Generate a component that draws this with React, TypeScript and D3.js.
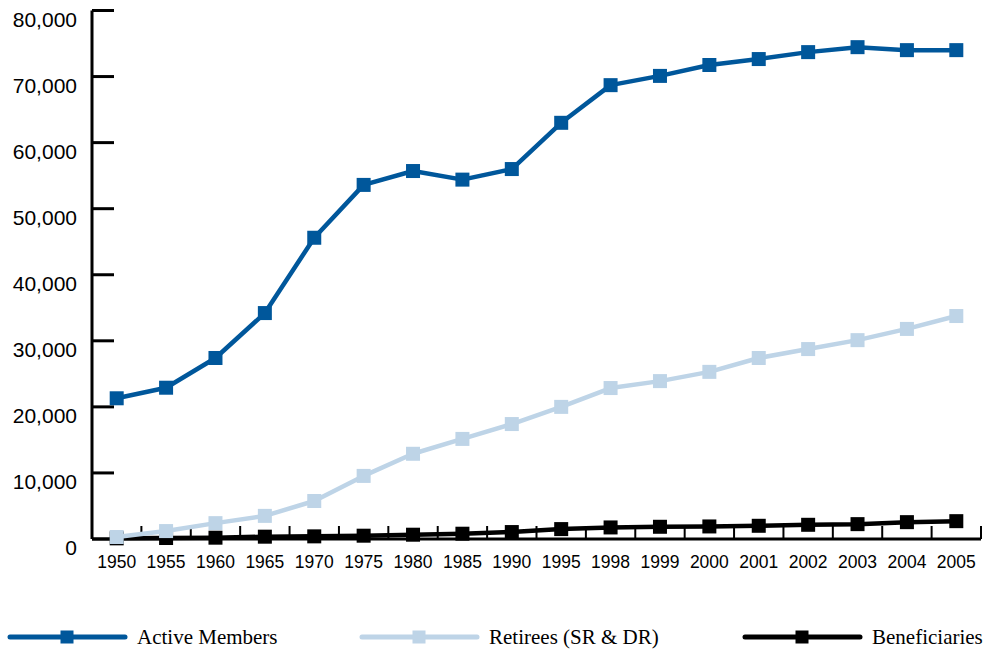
import React from "react";
import * as d3 from "d3";

const years = ["1950","1955","1960","1965","1970","1975","1980","1985","1990","1995","1998","1999","2000","2001","2002","2003","2004","2005"];
const activeMembers = [21300,22900,27400,34200,45600,53600,55700,54400,56000,63000,68700,70100,71750,72650,73700,74450,74000,74000];
const retirees = [300,1200,2400,3500,5750,9550,12900,15150,17400,20000,22850,23900,25300,27400,28750,30100,31800,33750];
const beneficiaries = [100,150,200,350,400,500,650,800,1050,1500,1750,1850,1900,2000,2150,2250,2550,2700];
const yTicks = [0,10000,20000,30000,40000,50000,60000,70000,80000];

const seriesNames = ["Active Members","Retirees (SR & DR)","Beneficiaries"];
const seriesColors = ["#00579b","#bed4e7","#000000"];

const W = 989, H = 654;
const left = 92, right = 981, top = 10.5, bottom = 539;

export default function App() {
  const x = d3.scaleBand<string>().domain(years).range([left, right]).padding(0);
  const y = d3.scaleLinear().domain([0, 80000]).range([bottom, top]);
  const cx = (yr: string) => (x(yr) as number) + x.bandwidth() / 2;
  const line = d3.line<number>().x((_, i) => cx(years[i])).y(d => y(d));
  const fmt = d3.format(",");
  const data = [activeMembers, retirees, beneficiaries];
  const order = [0, 2, 1];
  const ms = 14;
  const legendX = [10, 362, 745];
  const legendY = 637;

  return (
    <svg width={W} height={H} style={{ position: "absolute", left: 0, top: 0, background: "#fff" }}>
      {/* y axis */}
      <line x1={left} x2={left} y1={top} y2={bottom} stroke="#000" strokeWidth={3} />
      {yTicks.map(t => (
        <g key={t}>
          <line x1={left} x2={left + 22} y1={y(t)} y2={y(t)} stroke="#000" strokeWidth={3} />
          <text x={77} y={y(t) + 16} textAnchor="end" fontFamily="Liberation Sans, Arial, sans-serif" fontSize={21} fill="#000">{fmt(t)}</text>
        </g>
      ))}
      {/* x axis */}
      <line x1={left} x2={right} y1={bottom} y2={bottom} stroke="#000" strokeWidth={3} />
      {years.map((yr, i) => (
        <g key={yr}>
          {i > 0 && <line x1={x(yr) as number} x2={x(yr) as number} y1={bottom} y2={bottom - 13} stroke="#000" strokeWidth={2} />}
          <text x={cx(yr)} y={568} textAnchor="middle" fontFamily="Liberation Sans, Arial, sans-serif" fontSize={17.5} fill="#000">{yr}</text>
        </g>
      ))}
      <line x1={right} x2={right} y1={bottom} y2={bottom - 13} stroke="#000" strokeWidth={2} />
      {/* series */}
      {order.map(k => (
        <g key={k}>
          <path d={line(data[k]) || ""} fill="none" stroke={seriesColors[k]} strokeWidth={4.5} strokeLinejoin="round" />
          {data[k].map((v, i) => (
            <rect key={i} x={cx(years[i]) - ms / 2} y={y(v) - ms / 2} width={ms} height={ms} fill={seriesColors[k]} />
          ))}
        </g>
      ))}
      {/* legend */}
      {seriesNames.map((name, k) => (
        <g key={name}>
          <line x1={legendX[k]} x2={legendX[k] + 115} y1={legendY} y2={legendY} stroke={seriesColors[k]} strokeWidth={5} strokeLinecap="round" />
          <rect x={legendX[k] + 57 - 6.5} y={legendY - 6.5} width={13} height={13} fill={seriesColors[k]} />
          <text x={legendX[k] + 127} y={legendY + 7} fontFamily="Liberation Serif, Times New Roman, serif" fontSize={21} fill="#000">{name}</text>
        </g>
      ))}
    </svg>
  );
}
